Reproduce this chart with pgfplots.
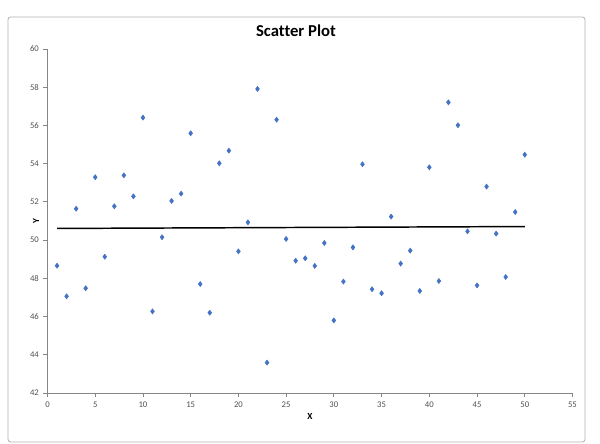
\documentclass[border=0pt]{standalone}
\usepackage{pgfplots}
\pgfplotsset{compat=1.18}
\usepackage{fontspec}
\setmainfont{Carlito}[Ligatures=NoCommon]
\definecolor{ptblue}{RGB}{68,114,196}
\definecolor{axgray}{RGB}{134,134,134}
\definecolor{txtgray}{RGB}{80,80,80}
\begin{document}
\begin{tikzpicture}
\useasboundingbox (-35.625pt,-37.5pt) rectangle (414.375pt,294.75pt);
\draw[rounded corners=2pt, draw=black!30, line width=0.6pt] (-29.625pt,-36.75pt) rectangle (403.125pt,282pt);
\begin{axis}[
  scale only axis,
  width=393.75pt, height=258pt,
  xmin=0, xmax=55, ymin=42, ymax=60,
  xtick={0,5,...,55}, ytick={42,44,...,60},
  axis x line*=bottom, axis y line*=left,
  axis line style={draw=axgray, line width=0.6pt},
  tick style={draw=axgray, line width=0.6pt},
  tick align=outside, major tick length=3pt,
  minor tick num=0,
  tick label style={font=\fontsize{6.5}{8}\selectfont, text=txtgray},
  /pgf/number format/assume math mode=true,
  title={\fontsize{12.5}{15}\selectfont\bfseries Scatter Plot},
  title style={at={(axis description cs:0.4733,1)}, anchor=center, yshift=7.5pt},
  xlabel={\bfseries X}, ylabel={\bfseries Y},
  xlabel style={font=\fontsize{7}{8}\selectfont, at={(axis description cs:0.5,0)}, anchor=center, yshift=-17.25pt},
  ylabel style={font=\fontsize{7}{8}\selectfont, at={(axis description cs:-0.0219,0.5)}, anchor=center},
  clip=false,
]
\addplot[only marks, mark=diamond*, mark size=1.9pt, color=ptblue] coordinates {
(1,48.66) (2,47.06) (3,51.64) (4,47.48) (5,53.29) (6,49.13) (7,51.77) (8,53.39) (9,52.29) (10,56.41)
(11,46.27) (12,50.15) (13,52.05) (14,52.43) (15,55.59) (16,47.70) (17,46.20) (18,54.02) (19,54.68) (20,49.41)
(21,50.93) (22,57.91) (23,43.59) (24,56.30) (25,50.06) (26,48.92) (27,49.05) (28,48.65) (29,49.85) (30,45.80)
(31,47.83) (32,49.62) (33,53.97) (34,47.43) (35,47.22) (36,51.23) (37,48.77) (38,49.45) (39,47.34) (40,53.81)
(41,47.86) (42,57.21) (43,56.01) (44,50.46) (45,47.63) (46,52.80) (47,50.34) (48,48.07) (49,51.47) (50,54.47)
};
\addplot[black, line width=1.1pt, mark=none] coordinates {(1,50.61) (50,50.71)};
\end{axis}
\end{tikzpicture}
\end{document}
